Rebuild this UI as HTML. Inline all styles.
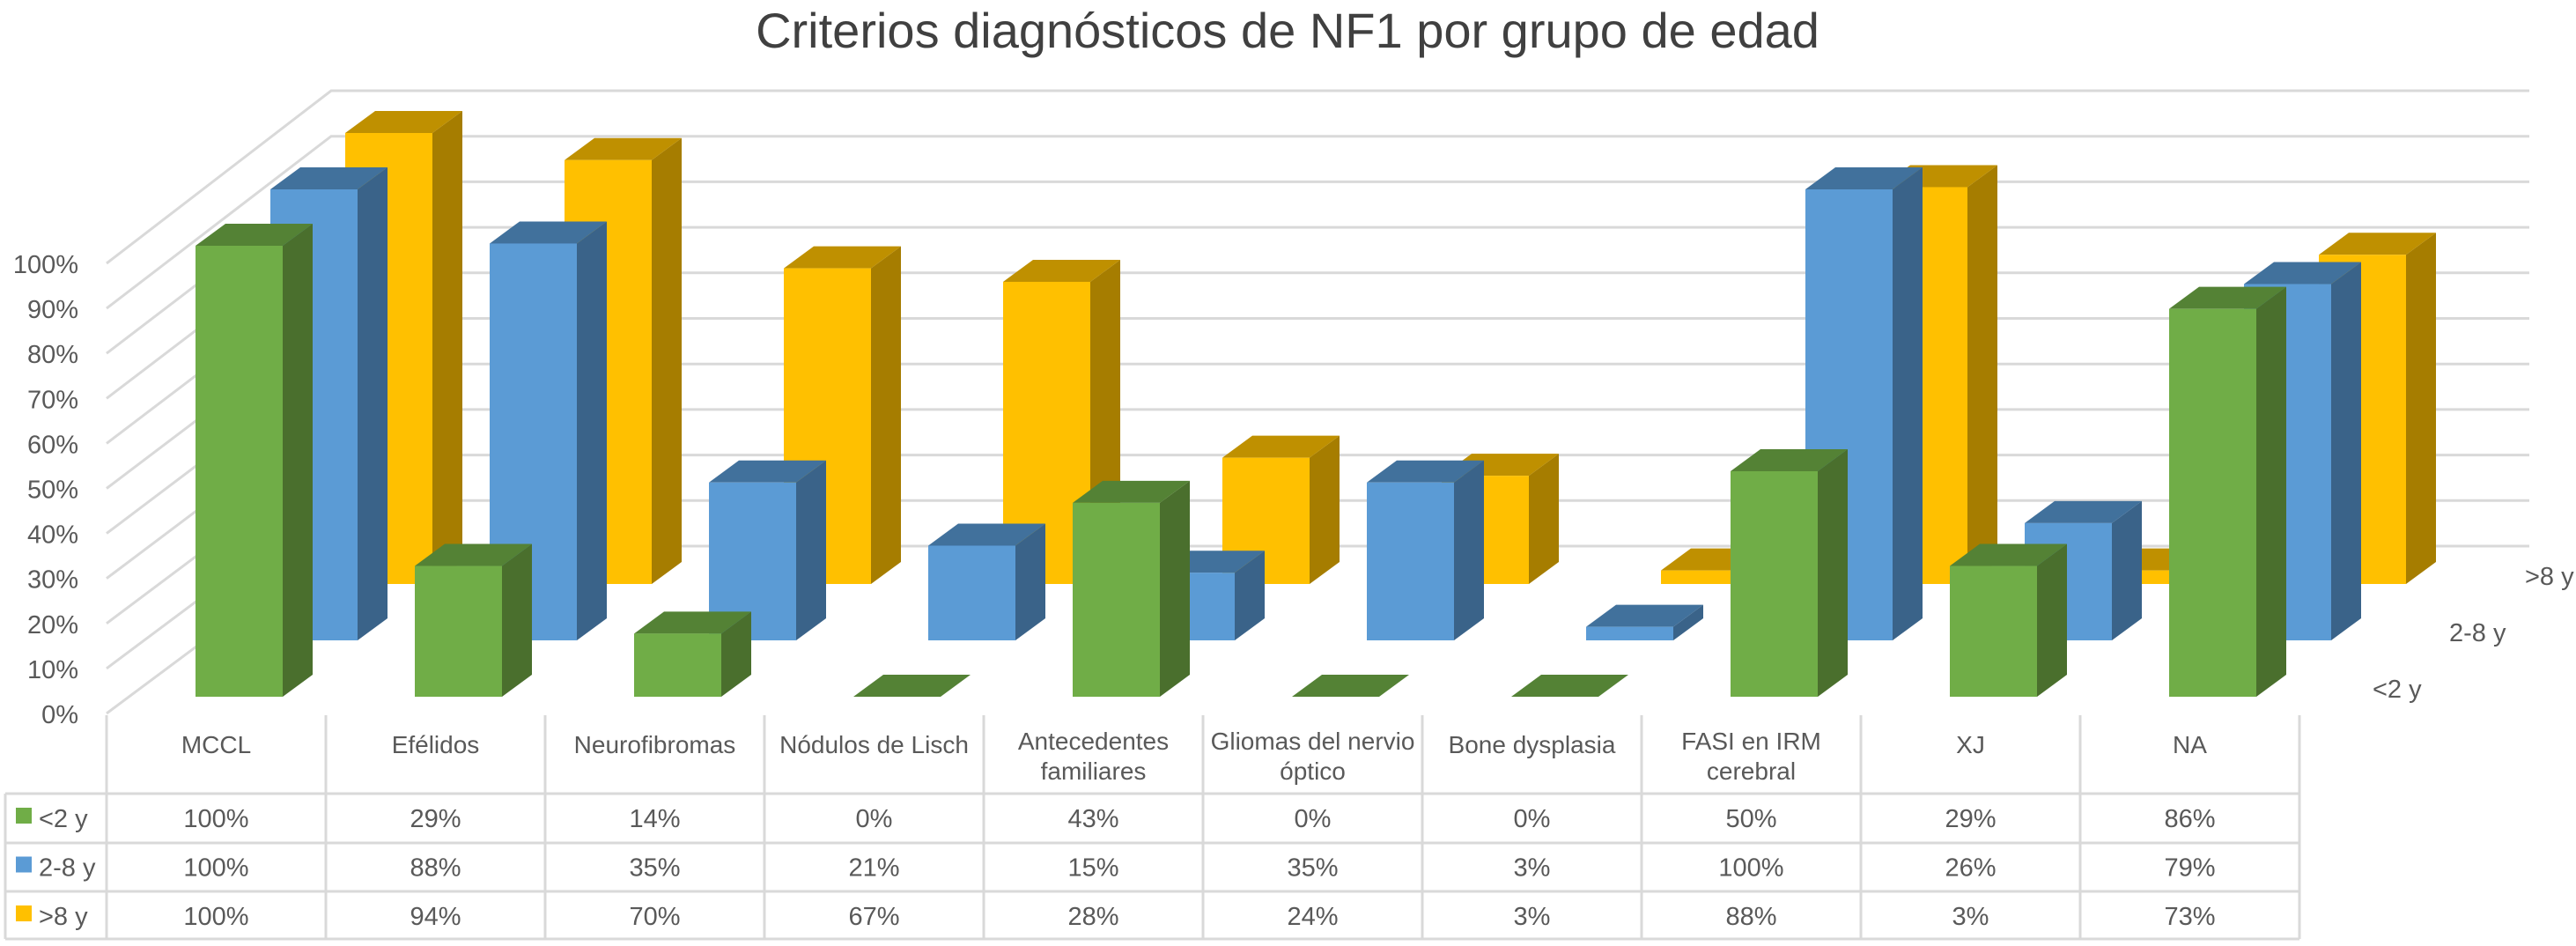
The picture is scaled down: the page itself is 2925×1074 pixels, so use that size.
<!DOCTYPE html>
<html><head><meta charset="utf-8"><style>
body{margin:0;background:#fff}
svg{display:block;font-family:"Liberation Sans",sans-serif}
</style></head><body>
<svg id="c" width="2925" height="1074" viewBox="0 0 2925 1074">
<text x="1462" y="54" text-anchor="middle" font-size="56" fill="#404040">Criterios diagnósticos de NF1 por grupo de edad</text>
<g id="grid"></g>
<g id="bars"></g>
<g id="table"></g>
</svg>
<script>
const categories=[["MCCL"],["Efélidos"],["Neurofibromas"],["Nódulos de Lisch"],["Antecedentes","familiares"],["Gliomas del nervio","óptico"],["Bone dysplasia"],["FASI en IRM","cerebral"],["XJ"],["NA"]];
const seriesNames=["<2 y","2-8 y",">8 y"];
const under2=[100,29,14,0,43,0,0,50,29,86];
const from2to8=[100,88,35,21,15,35,3,100,26,79];
const over8=[100,94,70,67,28,24,3,88,3,73];
const yTicks=[0,10,20,30,40,50,60,70,80,90,100];

const NS="http://www.w3.org/2000/svg";
function mk(tag,attrs,parent){const e=document.createElementNS(NS,tag);for(const k in attrs)e.setAttribute(k,attrs[k]);parent.appendChild(e);return e;}
const series=[under2,from2to8,over8];
const cols=[["#70AD47","#548235","#4A6F2D"],["#5B9BD5","#41719C","#3A6389"],["#FFC000","#BF9000","#A67D00"]];
const H=5.12, X0=222, STEP=249, W=99, RDX=85, RDY=-64, DX=34, DY=-25, BASE=791;
function yFront(v){return 810-v*5.11;}
function yBack(v){return 620-v*5.17;}
const grid=document.getElementById('grid');
yTicks.forEach(t=>{
  const l1=mk('polyline',{points:`121,${yFront(t)} 376,${yBack(t)} 2872,${yBack(t)}`,fill:'none',stroke:'#d9d9d9','stroke-width':3},grid);
  
  
  const tx=mk('text',{x:89,y:yFront(t)+11,'text-anchor':'end','font-size':29,fill:'#595959'},grid);
  tx.textContent=t+'%';
  
  
});
const sl=[[2694,792],[2781,728],[2867,664]];
seriesNames.forEach((n,r)=>{
  const t=mk('text',{x:sl[r][0],y:sl[r][1],'font-size':29,fill:'#595959'},grid);
  t.textContent=n;
  
  
});
const bars=document.getElementById('bars');
for(let r=2;r>=0;r--){
  series[r].forEach((v,i)=>{
    const x=X0+i*STEP+r*RDX, b=BASE+r*RDY, h=v*H, t=b-h;
    const g=mk('g',{},bars);
    
    
    mk('polygon',{points:`${x+W},${b} ${x+W+DX},${b+DY} ${x+W+DX},${t+DY} ${x+W},${t}`,fill:cols[r][2]},g);
    mk('polygon',{points:`${x},${t} ${x+DX},${t+DY} ${x+W+DX},${t+DY} ${x+W},${t}`,fill:cols[r][1]},g);
    if(h>0) mk('rect',{x:x,y:t,width:W,height:h,fill:cols[r][0]},g);
  });
}
const tb=document.getElementById('table');
const L='#d9d9d9';
function line(x1,y1,x2,y2){const l=mk('line',{x1,y1,x2,y2,stroke:L,'stroke-width':3},tb);}
const right=121+10*STEP;
const rowY=[901,957,1012,1066];
rowY.forEach(y=>line(6,y,right,y));
for(let i=0;i<=10;i++) line(121+i*STEP,812,121+i*STEP,1066);
line(6,901,6,1066);
categories.forEach((c,i)=>{
  const cx=121+i*STEP+STEP/2;
  const ys=c.length===1?[855]:[851,885];
  c.forEach((s,k)=>{
    const t=mk('text',{x:cx,y:ys[k],'text-anchor':'middle','font-size':28,fill:'#595959'},tb);
    t.textContent=s;
    
    
  });
});
series.forEach((arr,r)=>{
  const y=939+r*55.5;
  const k=mk('rect',{x:18,y:y-22,width:18,height:18,fill:cols[r][0]},tb);
  
  
  const n=mk('text',{x:44,y:y,'font-size':29,fill:'#595959'},tb);
  n.textContent=seriesNames[r];
  
  
  arr.forEach((v,i)=>{
    const t=mk('text',{x:121+i*STEP+STEP/2,y:y,'text-anchor':'middle','font-size':29,fill:'#595959'},tb);
    t.textContent=v+'%';
    
    
  });
});
</script>
</body></html>
